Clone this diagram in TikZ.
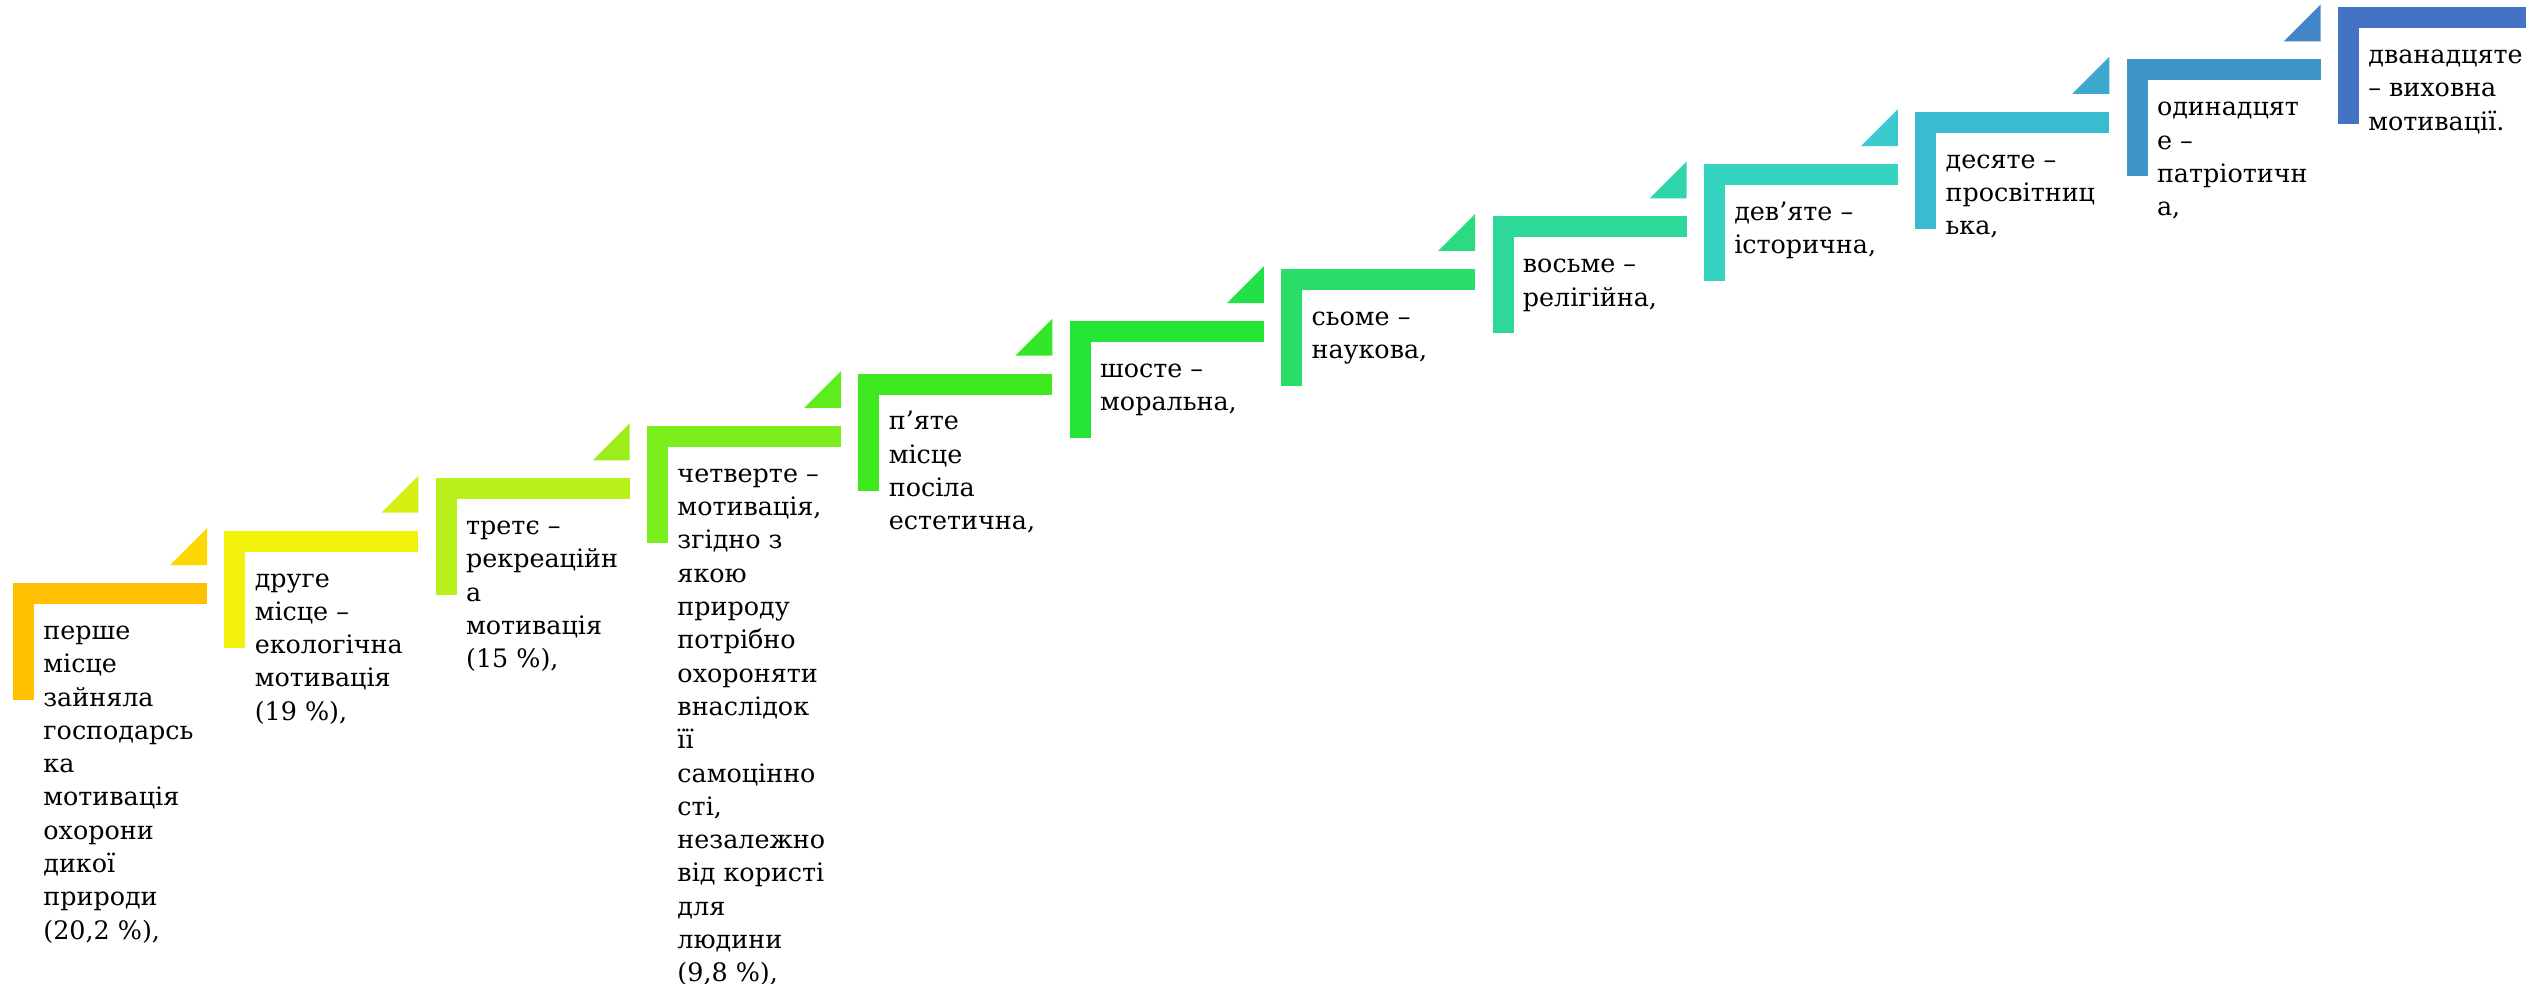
\documentclass[tikz,border=0pt]{standalone}
\usepackage{fontspec}
\newfontfamily\tnr{DejaVu Serif}
\definecolor{b1}{HTML}{FFC000}\definecolor{t1}{HTML}{FCD800}
\definecolor{b2}{HTML}{F2F20A}\definecolor{t2}{HTML}{D6F012}
\definecolor{b3}{HTML}{B8F01A}\definecolor{t3}{HTML}{9CEE1A}
\definecolor{b4}{HTML}{7AEE1A}\definecolor{t4}{HTML}{5EEC1C}
\definecolor{b5}{HTML}{40E81F}\definecolor{t5}{HTML}{34E628}
\definecolor{b6}{HTML}{22E633}\definecolor{t6}{HTML}{22E048}
\definecolor{b7}{HTML}{28DE68}\definecolor{t7}{HTML}{2ADB80}
\definecolor{b8}{HTML}{2DD898}\definecolor{t8}{HTML}{30D5AE}
\definecolor{b9}{HTML}{35D4C0}\definecolor{t9}{HTML}{38CACC}
\definecolor{b10}{HTML}{3ABCD0}\definecolor{t10}{HTML}{3CA8CC}
\definecolor{b11}{HTML}{3F95C8}\definecolor{t11}{HTML}{4285C6}
\definecolor{b12}{HTML}{4472C4}
\newcommand\mkstep[4]{%
  \pgfmathsetmacro\sL{13+211.36*#1}%
  \pgfmathsetmacro\sT{583-52.36*#1}%
  \fill[#2] (\sL,\sT) rectangle ++(194,21);
  \fill[#2] (\sL,\sT) rectangle ++(21,117);
  \ifx&#3&\else
  \fill[#3] (\sL+157,\sT-18) -- (\sL+194,\sT-18) -- (\sL+194,\sT-55) -- cycle;
  \fi
  \node[txt] (s#1) at (\sL+30,\sT+34) {\rule{0pt}{11pt}#4};
}
\begin{document}
\begin{tikzpicture}[x=0.5pt,y=-0.5pt,
  txt/.style={anchor=north west,inner sep=0pt,align=left,font=\tnr\fontsize{12.7pt}{16.65pt}\selectfont}]
\clip (0,0) rectangle (2526,984);
\mkstep{0}{b1}{t1}{перше\\місце\\зайняла\\господарсь\\ка\\мотивація\\охорони\\дикої\\природи\\(20,2~\%),}
\mkstep{1}{b2}{t2}{друге\\місце –\\екологічна\\мотивація\\(19~\%),}
\mkstep{2}{b3}{t3}{третє –\\рекреаційн\\а\\мотивація\\(15~\%),}
\mkstep{3}{b4}{t4}{четверте –\\мотивація,\\згідно з\\якою\\природу\\потрібно\\охороняти\\внаслідок\\її\\самоцінно\\сті,\\незалежно\\від користі\\для\\людини\\(9,8~\%),}
\mkstep{4}{b5}{t5}{п’яте\\місце\\посіла\\естетична,}
\mkstep{5}{b6}{t6}{шосте –\\моральна,}
\mkstep{6}{b7}{t7}{сьоме –\\наукова,}
\mkstep{7}{b8}{t8}{восьме –\\релігійна,}
\mkstep{8}{b9}{t9}{дев’яте –\\історична,}
\mkstep{9}{b10}{t10}{десяте –\\просвітниц\\ька,}
\mkstep{10}{b11}{t11}{одинадцят\\е –\\патріотичн\\а,}
\mkstep{11}{b12}{}{дванадцяте\\– виховна\\мотивації.}
\end{tikzpicture}
\end{document}
